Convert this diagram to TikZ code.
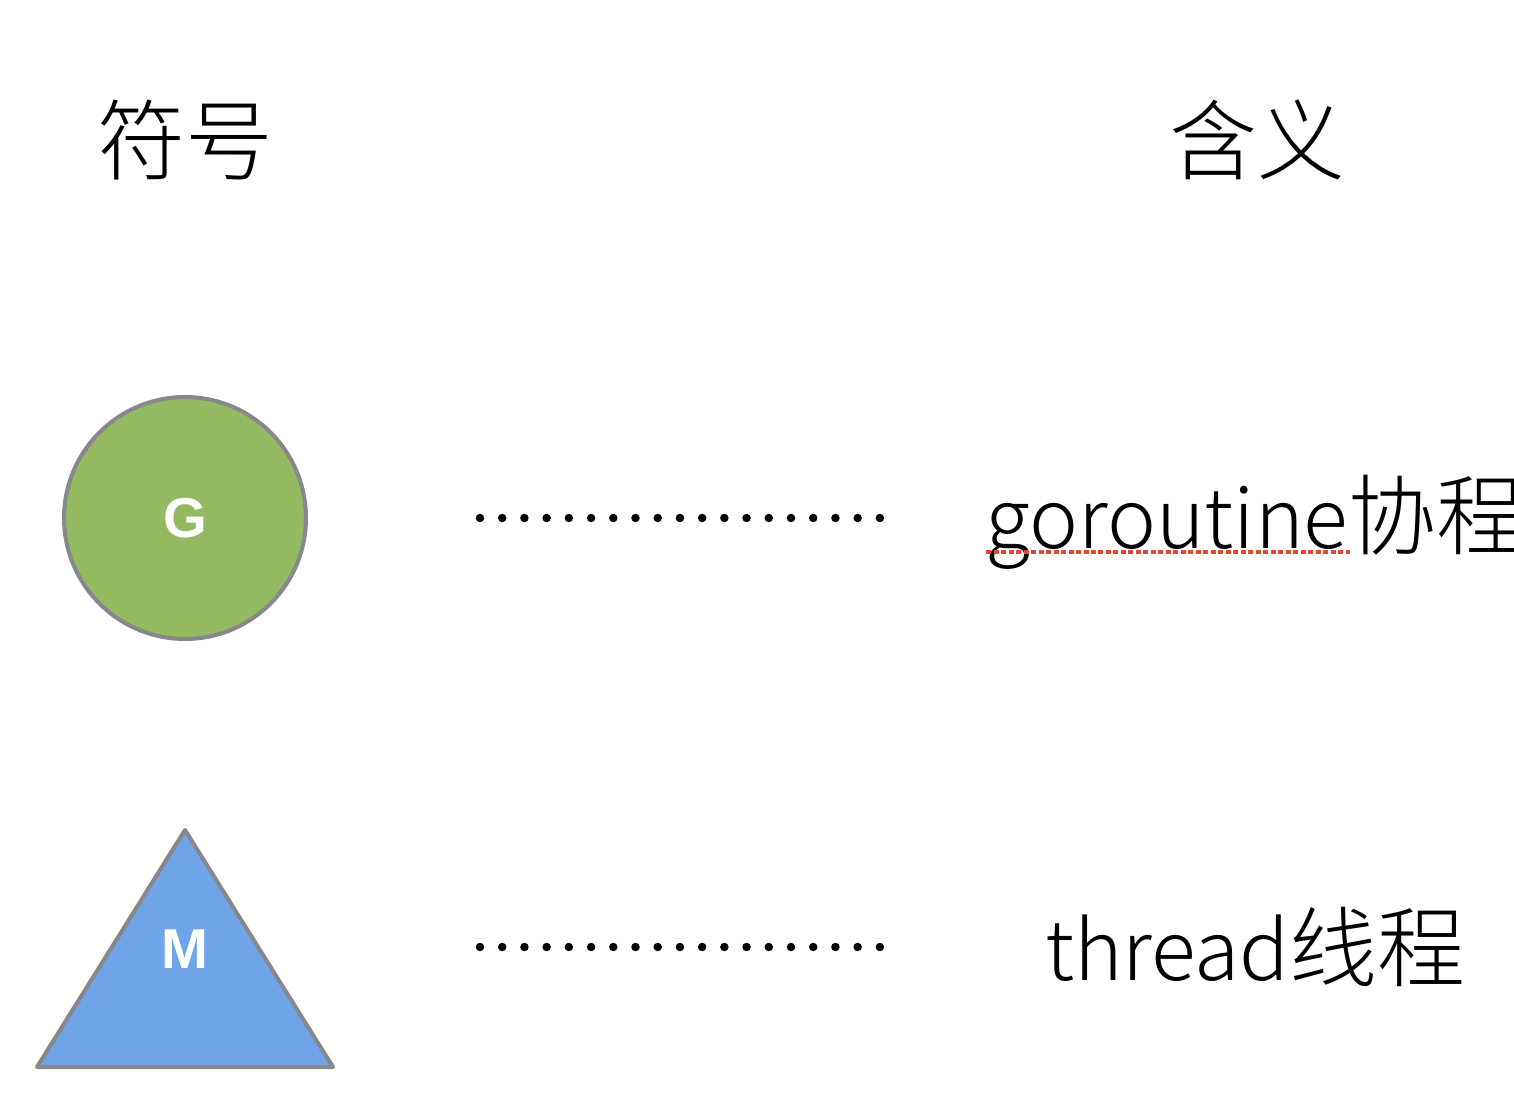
\documentclass[tikz,border=0pt]{standalone}
\usepackage{fontspec}
\setmainfont{Noto Sans CJK SC Light}
\newfontfamily\symfont{Liberation Sans}
\newcommand\latin[1]{{\fontsize{47}{60}\selectfont #1}}
\definecolor{gfill}{HTML}{93BA61}
\definecolor{mfill}{HTML}{6FA5E8}
\definecolor{symedge}{HTML}{88888C}
\definecolor{spell}{HTML}{E04A30}

\begin{document}
\begin{tikzpicture}[x=0.02cm,y=-0.02cm
	,every node/.style={
		inner sep=0
		,font=\fontsize{50}{60}\selectfont
	}
	,sym/.style={
		draw=symedge
		,line width=2.3pt
		,text=white
		,font=\symfont\bfseries\fontsize{32}{38}\selectfont
	}
	,dots/.style={
		line width=0.17cm
		,line cap=round
		,dash pattern=on 0pt off 0.4444cm
	}
]

\clip (0,0) rectangle (1514,1094);

% headers
\node(hsym) at(185,140) {符号};
\node(hmean) at(1257,140) {含义};

% symbols
\node[sym, circle, fill=gfill, minimum size=4.84cm](g) at(185,518) {G};
\coordinate(mtop) at(185,830);
\coordinate(mleft) at(37,1067);
\coordinate(mright) at(333,1067);
\draw[sym, fill=mfill, line join=round] (mtop) -- (mleft) -- (mright) -- cycle;
\node[sym, draw=none](m) at(185,949) {M};

% meanings
\node[anchor=base west](gtext) at(985,548) {\latin{goroutine}协程};
\node[anchor=base west](mtext) at(1045,980) {\latin{thread}线程};

% dotted links
\foreach \n/\y in {g/518, m/947}{
	\coordinate(\n l) at(480,\y);
	\coordinate(\n r) at(880,\y);
	\draw[dots] (\n l) -- (\n r);
}

% spell check mark
\coordinate(ul) at(986,552);
\coordinate(ur) at(1350,552);
\draw[spell, line width=0.065cm, dash pattern=on 0.1cm off 0.05cm] (ul) -- (ur);

\end{tikzpicture}
\end{document}
